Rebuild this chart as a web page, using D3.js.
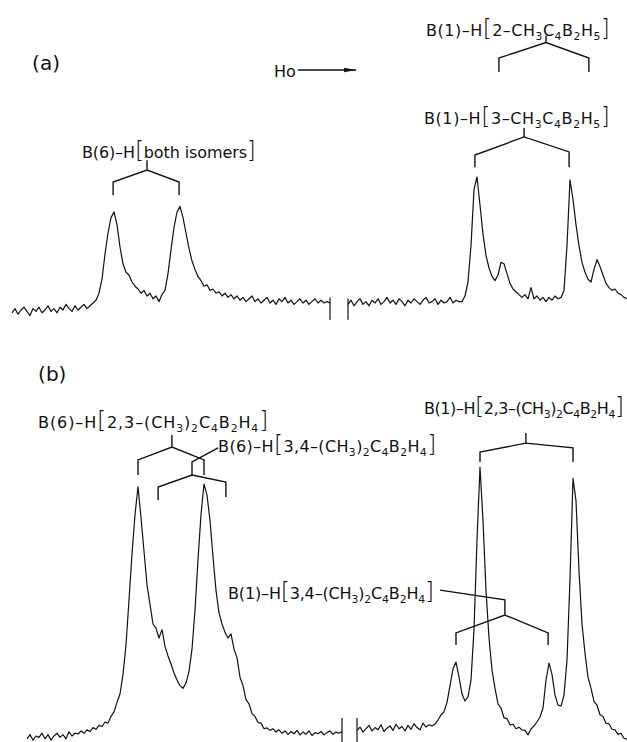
<!DOCTYPE html>
<html>
<head>
<meta charset="utf-8">
<script src="https://cdn.jsdelivr.net/npm/d3@7"></script>
<style>
  body { margin: 0; background: #fff; }
  svg { display: block; }
  text { font-family: "DejaVu Sans", sans-serif; fill: #111; }
</style>
</head>
<body>
<svg width="627" height="742"></svg>
<script>
'use strict';

// field axis in channels (0..205), intensity in arbitrary units (baseline = 0)
// spectrum (a): 2- and 3-CH3C4B2H5 mixture
const aLeftStart = 0;
const aLeft = [-2, 1, -3, 0, 2, -1, -4, 1, -1, 2, -2, 0, 3, -1, 1, -2, 2, 0, 4, 1, -1, 3, 0, 2, 4, 1, 3, 5,
    7, 12, 22, 40, 55, 66, 70, 61, 45, 33, 27, 25, 20, 17, 15, 12, 14, 10, 12, 8, 10, 6, 11, 14,
    26, 43, 59, 70, 74, 66, 55, 44, 35, 29, 24, 21, 17, 18, 14, 15, 12, 13, 10, 12, 9, 11, 8, 10,
    7, 9, 6, 8, 10, 6, 8, 5, 7, 9, 5, 7, 4, 8, 6, 9, 5, 7, 4, 6, 8, 5, 7, 4, 6, 8, 5, 7, 5, 6, 5];
const aRightStart = 112;
const aRight = [4, 7, 3, 6, 8, 4, 6, 3, 7, 5, 8, 4, 6, 9, 5, 7, 4, 8, 6, 3, 7, 5, 8, 6, 4, 7, 9, 5, 6, 8, 4, 7, 5, 6, 9, 5, 7, 6,
    6, 10, 20, 46, 86, 95, 75, 54, 39, 30, 24, 21, 25, 34, 33, 26, 19, 15, 13, 11, 9, 11, 8, 16, 8, 10,
    7, 9, 6, 9, 7, 10, 8, 9, 14, 46, 93, 79, 61, 46, 34, 27, 22, 20, 29, 36, 31, 25, 19, 16, 14, 15, 12, 11, 9, 8];

// spectrum (b): 2,3- and 3,4-(CH3)2C4B2H4 mixture
const bLeftStart = 5;
const bLeft = [-1, 0.5, -1.5, 0, -0.5, 1, -1, 0.5, -1.5, 0, 1, -0.5, 0.5, -1, 1.5, 0, 1,
    0.7, 1.8, 1, 2.2, 1.6, 3, 2.4, 3.8, 3.4, 5, 4.6, 7, 8.6, 12, 15, 22, 32.5, 48.6, 65, 79, 89, 78,
    66, 54, 47, 40, 38.5, 35, 38, 32, 28.6, 25.7, 22.5, 20, 18, 17, 19, 23, 31, 45, 63, 79, 90, 86,
    77, 64, 52, 44, 40, 37, 35, 36.5, 31, 28, 21, 18, 13, 11.5, 8, 7, 4.8, 4.6, 2.6,
    2.9, 2, 2.6, 1.4, 2.2, 1, 1.8, 0.6, 1.6, 0.8, 2, 0.4, 1.4, 0.6, 1.8, 0.2, 1.2, 0.8, 1.6, 0.4, 1.2, 1.8, 0.6, 1.4, 1, 1.6];
const bRightStart = 115;
const bRight = [2, 3.2, 1.4, 2.6, 3.8, 1.8, 3, 2.2, 4, 1.6, 2.8, 3.6, 2, 4.2, 2.6, 3.4, 1.8, 3.8, 2.4, 4.4, 3, 2.2, 4.6, 3.2, 4, 3.6,
    4.3, 5.7, 7.5, 8.6, 12, 18, 24, 26.4, 21, 15, 12.5, 14, 20, 38, 70, 96, 77, 52, 35, 23.6, 17, 11.5, 10, 6.5,
    6.2, 4, 4.2, 2.6, 3.1, 2.2, 2, 0.4, 2.5, 3.6, 5, 6.8, 10, 20, 26, 22, 14.6, 11, 10.7, 14.6, 27, 56, 92, 84,
    59, 40, 29.5, 21, 17, 12.4, 11, 7.6, 7, 4.5, 4.4, 2.4, 2.2, 0.6, 1, -0.8, -1.2];

// break marks: [channel, top, bottom]
const breaksA = [[106, 9, -7], [112, 8, -7]];
const breaksB = [[110, 6.4, -2.2], [115, 6.4, -2.2]];

// labels: parts are [text, kind] with kind n = normal, s = subscript, b = big bracket
const labelsA = [
    { x: 6.7, y: 171.4, size: 20, parts: [["(a)", "n"]] },
    { x: 87.3, y: 166.4, parts: [["Ho", "n"]] },
    { x: 138, y: 195.7, w: 61.3, parts: [["B(1)–H", "n"], ["[", "b"], ["2–CH", "n"], ["3", "s"], ["C", "n"], ["4", "s"], ["B", "n"], ["2", "s"], ["H", "n"], ["5", "s"], ["]", "b"]] },
    { x: 137.3, y: 132.9, w: 62, parts: [["B(1)–H", "n"], ["[", "b"], ["3–CH", "n"], ["3", "s"], ["C", "n"], ["4", "s"], ["B", "n"], ["2", "s"], ["H", "n"], ["5", "s"], ["]", "b"]] },
    { x: 23.3, y: 108.6, w: 58, parts: [["B(6)–H", "n"], ["[", "b"], ["both isomers", "n"], ["]", "b"]] }
];
const labelsB = [
    { x: 8.7, y: 126.8, size: 20, parts: [["(b)", "n"]] },
    { x: 8.7, y: 110, w: 76.7, parts: [["B(6)–H", "n"], ["[", "b"], ["2,3–(CH", "n"], ["3", "s"], [")", "n"], ["2", "s"], ["C", "n"], ["4", "s"], ["B", "n"], ["2", "s"], ["H", "n"], ["4", "s"], ["]", "b"]] },
    { x: 68.7, y: 101.4, w: 72.7, parts: [["B(6)–H", "n"], ["[", "b"], ["3,4–(CH", "n"], ["3", "s"], [")", "n"], ["2", "s"], ["C", "n"], ["4", "s"], ["B", "n"], ["2", "s"], ["H", "n"], ["4", "s"], ["]", "b"]] },
    { x: 137.3, y: 115, w: 66.7, parts: [["B(1)–H", "n"], ["[", "b"], ["2,3–(CH", "n"], ["3", "s"], [")", "n"], ["2", "s"], ["C", "n"], ["4", "s"], ["B", "n"], ["2", "s"], ["H", "n"], ["4", "s"], ["]", "b"]] },
    { x: 72, y: 48.9, w: 68.7, parts: [["B(1)–H", "n"], ["[", "b"], ["3,4–(CH", "n"], ["3", "s"], [")", "n"], ["2", "s"], ["C", "n"], ["4", "s"], ["B", "n"], ["2", "s"], ["H", "n"], ["4", "s"], ["]", "b"]] }
];

// assignment brackets: apex, stem top, legs [x, top, bottom], optional leader start
const bracketsA = [
    { apex: [178, 191], stem: 196, legs: [[162.3, 180, 170], [192.3, 180, 170]] },
    { apex: [170.7, 123.6], stem: 130, legs: [[154.3, 110.7, 102], [185.7, 112.9, 102]] },
    { apex: [45, 100], stem: 107, legs: [[33.7, 91.4, 82], [55.7, 91.4, 82]] }
];
const bracketsB = [
    { apex: [53.3, 103.2], stem: 107.5, legs: [[42, 98.6, 93.2], [64, 98.6, 93.2]] },
    { apex: [60, 93.2], stem: 97.9, leader: [68.7, 102.9], legs: [[48.7, 88.9, 84.3], [71.3, 90.7, 85.4]] },
    { apex: [171.3, 104.6], stem: 108.2, legs: [[156, 101.4, 97.9], [187, 102.9, 97.9]] },
    { apex: [164.3, 43.2], stem: 48.6, leader: [142.7, 52.1], legs: [[148, 36.8, 32.5], [178.7, 36.8, 32.5]] }
];

// field direction arrow (channels, intensity units of panel a)
const arrowA = { x0: 95.3, x1: 114.7, y: 171.4 };

const svg = d3.select("svg");

const x = d3.scaleLinear().domain([0, 205]).range([12, 627]);
const yA = d3.scaleLinear().domain([0, 100]).range([310, 170]);
const yB = d3.scaleLinear().domain([0, 100]).range([736, 456]);

svg.append("defs").append("marker")
    .attr("id", "head")
    .attr("markerUnits", "userSpaceOnUse")
    .attr("markerWidth", 12).attr("markerHeight", 6)
    .attr("refX", 12).attr("refY", 3)
    .attr("orient", "auto")
    .append("path").attr("d", "M0,0.8L12,3L0,5.2z").attr("fill", "#111");

const drawTrace = (g, y, start, vals) => {
    const line = d3.line()
        .x((d, i) => x(start + i))
        .y(d => y(d));
    g.append("path")
        .attr("d", line(vals))
        .attr("fill", "none")
        .attr("stroke", "#111")
        .attr("stroke-width", 1.2)
        .attr("stroke-linejoin", "round");
};

const drawBreaks = (g, y, marks) => {
    g.selectAll(null).data(marks).enter().append("line")
        .attr("x1", d => x(d[0])).attr("x2", d => x(d[0]))
        .attr("y1", d => y(d[1])).attr("y2", d => y(d[2]))
        .attr("stroke", "#111").attr("stroke-width", 1.2);
};

const drawBrackets = (g, y, list) => {
    list.forEach(b => {
        const [l, r] = b.legs;
        let d = `M${x(l[0])},${y(l[2])}L${x(l[0])},${y(l[1])}L${x(b.apex[0])},${y(b.apex[1])}` +
            `L${x(r[0])},${y(r[1])}L${x(r[0])},${y(r[2])}` +
            `M${x(b.apex[0])},${y(b.apex[1])}L${x(b.apex[0])},${y(b.stem)}`;
        if (b.leader) d += `L${x(b.leader[0])},${y(b.leader[1])}`;
        g.append("path").attr("d", d)
            .attr("fill", "none").attr("stroke", "#111")
            .attr("stroke-width", 1.4).attr("stroke-linejoin", "miter");
    });
};

const drawLabels = (g, y, list) => {
    list.forEach(lab => {
        const size = lab.size || 16;
        const t = g.append("text")
            .attr("x", x(lab.x)).attr("y", y(lab.y))
            .attr("font-size", size);
        let shift = 0;
        lab.parts.forEach(([s, kind]) => {
            const ts = t.append("tspan").text(s);
            if (kind === "s") {
                ts.attr("font-size", size * 0.68).attr("dy", 4 - shift);
                shift = 4;
            } else {
                ts.attr("dy", -shift);
                shift = 0;
                if (kind === "b") ts.attr("font-size", size * 1.45).attr("font-weight", 300);
            }
        });
        if (lab.w) {
            t.attr("textLength", x(lab.x + lab.w) - x(lab.x))
                .attr("lengthAdjust", "spacing");
        }
    });
};

const gA = svg.append("g");
drawTrace(gA, yA, aLeftStart, aLeft);
drawTrace(gA, yA, aRightStart, aRight);
drawBreaks(gA, yA, breaksA);
drawBrackets(gA, yA, bracketsA);
drawLabels(gA, yA, labelsA);
gA.append("line")
    .attr("x1", x(arrowA.x0)).attr("x2", x(arrowA.x1))
    .attr("y1", yA(arrowA.y)).attr("y2", yA(arrowA.y))
    .attr("stroke", "#111").attr("stroke-width", 1.6)
    .attr("marker-end", "url(#head)");

const gB = svg.append("g");
drawTrace(gB, yB, bLeftStart, bLeft);
drawTrace(gB, yB, bRightStart, bRight);
drawBreaks(gB, yB, breaksB);
drawBrackets(gB, yB, bracketsB);
drawLabels(gB, yB, labelsB);
</script>
</body>
</html>
